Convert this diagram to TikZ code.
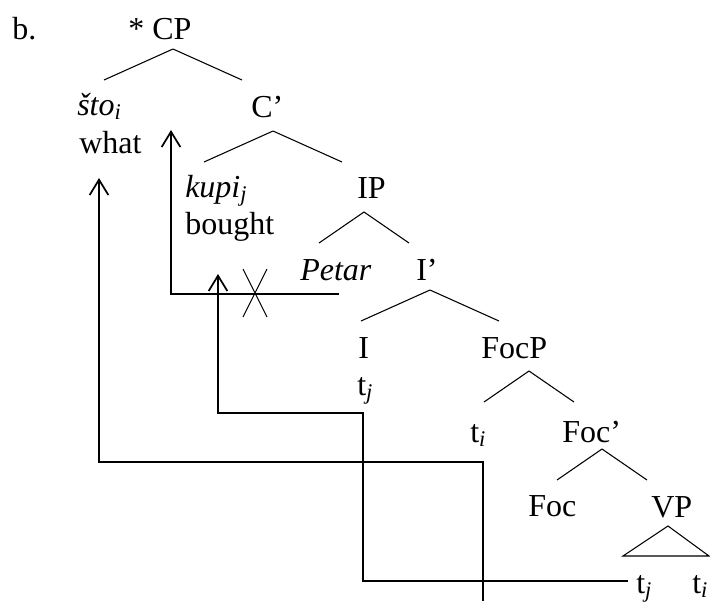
\documentclass[tikz,border=0pt]{standalone}
\usepackage{fontspec}
\setmainfont{Liberation Serif}
\usetikzlibrary{arrows.meta}
\tikzset{
  lab/.style={inner sep=0pt,anchor=base west,font=\fontsize{24}{28}\selectfont},
  branch/.style={line width=0.8pt},
  mv/.style={line width=1.3pt,-{Straight Barb[length=11.5pt,width=14pt]}},
}
\begin{document}
\begin{tikzpicture}[x=0.75pt,y=-0.75pt]
  \useasboundingbox (0,0) rectangle (710,601);
  % labels
  \node[lab] (ex) at (12,39) {b.};
  \node[lab] (cp) at (128,39) {* CP};
  \node[lab] (sto) at (77,115) {\textit{što}\textsubscript{\textit{i}}};
  \node[lab] (what) at (79,153) {what};
  \node[lab] (cbar) at (251,117) {C’};
  \node[lab] (kupi) at (185,197) {\textit{kupi}\textsubscript{\textit{j}}};
  \node[lab] (bought) at (185,234) {bought};
  \node[lab] (ip) at (357,198) {IP};
  \node[lab] (petar) at (300,280) {\textit{Petar}};
  \node[lab] (ibar) at (416,280) {I’};
  \node[lab] (inode) at (358,358) {I};
  \node[lab] (tj1) at (357,395) {t\textsubscript{\textit{j}}};
  \node[lab] (focp) at (481,358) {FocP};
  \node[lab] (ti1) at (470,442) {t\textsubscript{\textit{i}}};
  \node[lab] (focbar) at (562,442) {Foc’};
  \node[lab] (foc) at (528,516) {Foc};
  \node[lab] (vp) at (651,517) {VP};
  \node[lab] (tj2) at (636,593) {t\textsubscript{\textit{j}}};
  \node[lab] (ti2) at (692,593) {t\textsubscript{\textit{i}}};
  % branches
  \foreach \N/\X/\Y/\W in {cp/173/49/69, cbar/273/131/69, ip/364/212/45,
                           ibar/430/290/69, focp/529/371/45, focbar/602/449/45} {
    \coordinate (\N-v) at (\X,\Y);
    \draw[branch] (\N-v) -- +(-\W,31) (\N-v) -- +(\W,31);}
  \coordinate (vp-v) at (668,526);
  \draw[branch] (vp-v) -- +(-45,30) -- +(41,30) -- cycle;
  % movement
  \coordinate (sto-src) at (483,601);
  \coordinate (kupi-src) at (628,581);
  \coordinate (bad-src) at (339,294);
  \draw[mv] (sto-src) |- (99,462) -- (99,178);
  \draw[mv] (kupi-src) -| (363,413) -| (218,274);
  \draw[mv] (bad-src) -| (171,130);
  \draw[branch] (243,269) -- (267,317) (267,269) -- (243,317);
\end{tikzpicture}
\end{document}
